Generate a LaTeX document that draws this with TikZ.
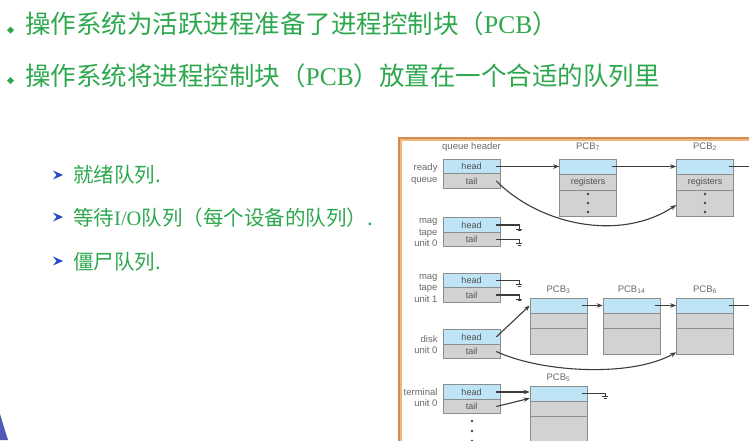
\documentclass[tikz,border=0pt]{standalone}
\usepackage{fontspec}
\setmainfont{Liberation Sans}
\newfontfamily\cjk{Noto Sans CJK SC}
\newfontfamily\serifpcb{Liberation Serif}
\usetikzlibrary{calc,arrows.meta}
\definecolor{txtgreen}{RGB}{46,168,78}
\definecolor{bulblue}{RGB}{40,70,200}
\definecolor{cellblue}{RGB}{190,228,245}
\definecolor{cellgray}{RGB}{210,210,210}
\definecolor{cellline}{RGB}{140,140,140}
\definecolor{celltext}{RGB}{80,80,80}
\definecolor{linkgray}{RGB}{60,60,60}
\definecolor{lblgray}{RGB}{105,105,105}
\definecolor{frameout}{RGB}{210,140,80}
\definecolor{framein}{RGB}{238,184,125}
\definecolor{decoblue}{RGB}{80,90,180}
\begin{document}
\begin{tikzpicture}[x=1pt,y=-1pt,
  maintxt/.style={anchor=base west,inner sep=0,text=txtgreen,font=\fontsize{25.5}{30}\selectfont\cjk},
  subtxt/.style={anchor=base west,inner sep=0,text=txtgreen,font=\fontsize{20.5}{24}\selectfont\cjk},
  cellbase/.style={draw=cellline,line width=0.6pt,minimum width=57pt,inner sep=0,text=celltext,font=\fontsize{9}{10}\selectfont},
  hd/.style={cellbase,fill=cellblue,minimum height=14.5pt},
  tl/.style={cellbase,fill=cellgray,minimum height=14.5pt},
  pcbtop/.style={cellbase,fill=cellblue,minimum height=15pt},
  pcbmid/.style={cellbase,fill=cellgray,minimum height=15pt},
  pcbbot/.style={cellbase,fill=cellgray,minimum height=#1},
  lbl/.style={anchor=east,inner sep=0,align=right,text=lblgray,font=\fontsize{9.5}{11.5}\selectfont},
  pcblbl/.style={inner sep=0,text=lblgray,font=\fontsize{9.5}{11}\selectfont},
  link/.style={draw=linkgray,line width=1.1pt,-{Stealth[length=6pt,width=4.5pt]}},
  nolink/.style={draw=linkgray,line width=1.1pt},
  gnd/.pic={\draw[linkgray,line width=1pt] (-3,0) -- (3,0); \draw[linkgray,line width=1pt] (-1.6,1.8) -- (1.6,1.8);},
  dot/.style={fill=black!75}
]
\useasboundingbox (0,0) rectangle (749,440);
\clip (0,0) rectangle (749,440);
\fill[white] (0,0) rectangle (749,440);

% decoration bottom-left
\fill[decoblue] (0,414) .. controls (3,424) .. (8,440) -- (0,440) -- cycle;

% main bullets
\fill[txtgreen] (10.5,26.5) -- (14,30) -- (10.5,33.5) -- (7,30) -- cycle;
\fill[txtgreen] (10.5,77) -- (14,80.5) -- (10.5,84) -- (7,80.5) -- cycle;
\node[maintxt] (t1) at (25,33) {操作系统为活跃进程准备了进程控制块（{\serifpcb PCB}）};
\node[maintxt] (t2) at (25,85) {操作系统将进程控制块（{\serifpcb PCB}）放置在一个合适的队列里};

% sub bullets
\foreach \yy in {175,217,261}{
  \fill[bulblue] (63,\yy) -- (53,\yy-4.5) -- (56.5,\yy) -- (53,\yy+4.5) -- cycle;
}
\node[subtxt] (s1) at (73,182) {就绪队列.};
\node[subtxt] (s2) at (73,225) {等待{\serifpcb I/O}队列（每个设备的队列）.};
\node[subtxt] (s3) at (73,269) {僵尸队列.};

% frame
\draw[frameout,line width=4.5pt,line join=miter] (400,470) -- (400,139) -- (780,139);
\draw[framein,line width=1.8pt,line join=miter] (400.8,470) -- (400.8,139.8) -- (780,139.8);

% queue headers
\node[hd] (rh) at (471.5,166.5) {head};
\node[tl] (rt) at (471.5,181) {tail};
\node[hd] (m0h) at (471.5,225) {head};
\node[tl] (m0t) at (471.5,239.5) {tail};
\node[hd] (m1h) at (471.5,280.5) {head};
\node[tl] (m1t) at (471.5,295) {tail};
\node[hd] (dh) at (471.5,337) {head};
\node[tl] (dt) at (471.5,351.5) {tail};
\node[hd] (th) at (471.5,392) {head};
\node[tl] (tt) at (471.5,406.5) {tail};

\node[pcblbl] (qh) at ($(rh.north)+(0,-12)$) {queue header};

% device labels
\node[lbl] (lr) at ($(rh.south west)+(-5,0)$) {ready\\queue};
\node[lbl] (lm0) at ($(m0h.south west)+(-5,0)$) {mag\\tape\\unit 0};
\node[lbl] (lm1) at ($(m1h.south west)+(-5,0)$) {mag\\tape\\unit 1};
\node[lbl] (ld) at ($(dh.south west)+(-5,0)$) {disk\\unit 0};
\node[lbl] (lt) at ($(th.south west)+(-5,-2)$) {terminal\\unit 0};

% ready-queue PCBs
\node[pcbtop] (p7a) at (588,166.5) {};
\node[pcbmid,minimum height=16pt] (p7b) at (588,182) {registers};
\node[pcbbot=26pt] (p7c) at (588,203) {};
\node[pcbtop] (p2a) at (705,166.5) {};
\node[pcbmid,minimum height=16pt] (p2b) at (705,182) {registers};
\node[pcbbot=26pt] (p2c) at (705,203) {};
\node[pcblbl] (l7) at ($(p7a.north)+(0,-12)$) {PCB\textsubscript{7}};
\node[pcblbl] (l2) at ($(p2a.north)+(0,-12)$) {PCB\textsubscript{2}};
\foreach \n in {p7c,p2c}{
  \foreach \dy in {-9,0,9}{
    \fill[dot] ($(\n.center)+(0,\dy)$) circle (1.3pt);
  }
}

% disk PCBs
\node[pcbtop] (p3a) at (558.5,305.5) {};
\node[pcbmid] (p3b) at (558.5,320.5) {};
\node[pcbbot=26pt] (p3c) at (558.5,341) {};
\node[pcbtop] (p14a) at (631.5,305.5) {};
\node[pcbmid] (p14b) at (631.5,320.5) {};
\node[pcbbot=26pt] (p14c) at (631.5,341) {};
\node[pcbtop] (p6a) at (705,305.5) {};
\node[pcbmid] (p6b) at (705,320.5) {};
\node[pcbbot=26pt] (p6c) at (705,341) {};
\node[pcblbl] (l3) at ($(p3a.north)+(0,-8)$) {PCB\textsubscript{3}};
\node[pcblbl] (l14) at ($(p14a.north)+(0,-8)$) {PCB\textsubscript{14}};
\node[pcblbl] (l6) at ($(p6a.north)+(0,-8)$) {PCB\textsubscript{6}};

% terminal PCB
\node[pcbtop] (p5a) at (558.5,393.5) {};
\node[pcbmid] (p5b) at (558.5,408.5) {};
\node[pcbbot=30pt] (p5c) at (558.5,431) {};
\node[pcblbl] (l5) at ($(p5a.north)+(0,-8)$) {PCB\textsubscript{5}};

% dots below terminal
\foreach \yy in {421,431,441}{ \fill[dot] (472,\yy) circle (1.3pt); }

% ready queue links
\draw[link] ($(rh.east)+(-4,0)$) -- (p7a.west);
\draw[link] ($(p7a.east)+(-5,0)$) -- (p2a.west);
\draw[nolink] ($(p2a.east)+(-5,0)$) -- ++(40,0);
\draw[link] ($(rt.east)+(-4,0)$) .. controls (540,225) and (620,242) .. ($(p2c.west)+(0,2)$);

% mag tape nulls
\draw[nolink] ($(m0h.east)+(-4,0)$) -- ++(23,0) -- ++(0,4) pic{gnd};
\draw[nolink] ($(m0t.east)+(-4,0)$) -- ++(23,0) -- ++(0,4) pic{gnd};
\draw[nolink] ($(m1h.east)+(-4,0)$) -- ++(23,0) -- ++(0,4) pic{gnd};
\draw[nolink] ($(m1t.east)+(-4,0)$) -- ++(23,0) -- ++(0,4) pic{gnd};

% disk links
\draw[link] ($(dh.east)+(-4,0)$) -- (p3a.west);
\draw[link] ($(p3a.east)+(-5,0)$) -- (p14a.west);
\draw[link] ($(p14a.east)+(-5,0)$) -- (p6a.west);
\draw[nolink] ($(p6a.east)+(-5,0)$) -- ++(40,0);
\draw[link] ($(dt.east)+(-4,0)$) .. controls (540,372) and (630,378) .. ($(p6c.south west)+(0,-2)$);

% terminal links
\draw[link] ($(th.east)+(-4,0)$) -- ($(p5a.west)+(0,-1.5)$);
\draw[link] ($(tt.east)+(-4,0)$) -- ($(p5a.south west)+(0,-3)$);
\draw[nolink] ($(p5a.east)+(-5,0)$) -- ++(23,0) -- ++(0,3) pic{gnd};
\end{tikzpicture}
\end{document}
